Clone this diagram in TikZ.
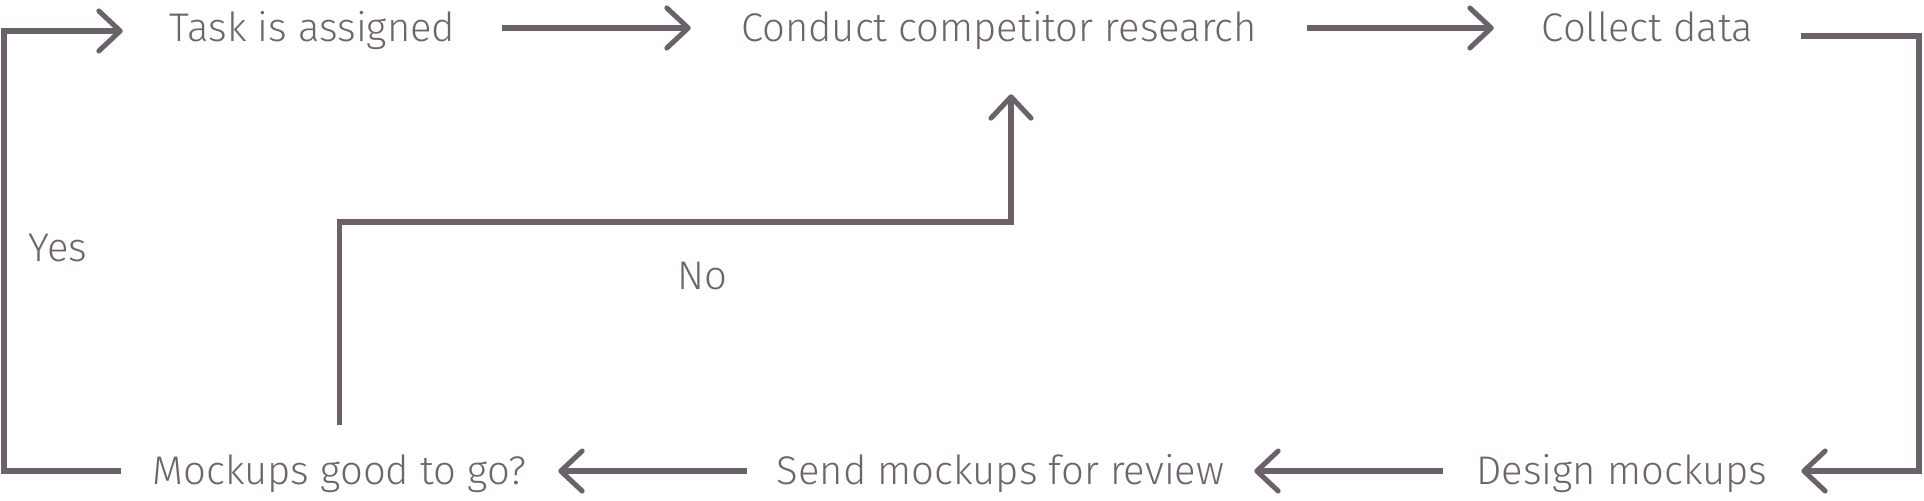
\documentclass[tikz,border=0pt]{standalone}
\usepackage{fontspec}
\setmainfont{Fira Sans Light}
\usetikzlibrary{arrows.meta}
\definecolor{flowline}{HTML}{6B616B}
\definecolor{flowtext}{HTML}{6E646E}

\begin{document}
\begin{tikzpicture}[x=0.75pt, y=-0.75pt,
		every node/.style = {font=\fontsize{30}{35}\selectfont, text=flowtext},
		stepbox/.style = {minimum width=#1, inner xsep=0pt, inner ysep=24.5pt, text height=20pt, text depth=0pt},
		flow/.style = {draw=flowline, line width=3.8pt, -{Straight Barb[length=16pt, width=30pt, round]}}
	]
		\useasboundingbox (0,0) rectangle (1924,500);
		\node[stepbox=284.25pt] (task) at (312.5,28) {Task is assigned};
		\node[stepbox=462pt] (conduct) at (999,28) {Conduct competitor research};
		\node[stepbox=230.25pt] (collect) at (1647.5,28) {Collect data};
		\node[stepbox=268.5pt] (design) at (1622,471) {Design mockups};
		\node[stepbox=380.25pt] (send) at (1000.5,471) {Send mockups for review};
		\node[stepbox=327.75pt] (mockups) at (339.5,471) {Mockups good to go?};
		\node (yes) at (58,248) {Yes};
		\node (no) at (702,276) {No};
		\coordinate (yestop) at (4,31);
		\coordinate (backturn) at (1919,471);
		\coordinate (noturn) at (1011,222);
		\draw[flow] (task) -- (conduct);
		\draw[flow] (conduct) -- (collect);
		\draw[flow] ([yshift=-6pt]collect.east) -| (backturn) -- (design.east);
		\draw[flow] (design) -- (send);
		\draw[flow] (send) -- (mockups);
		\draw[flow] (mockups.west) -| (yestop) -- ([yshift=-2.25pt]task.west);
		\draw[flow] (mockups.north) |- (noturn) -- ([xshift=9pt, yshift=-15pt]conduct.south);
	\end{tikzpicture}
\end{document}
